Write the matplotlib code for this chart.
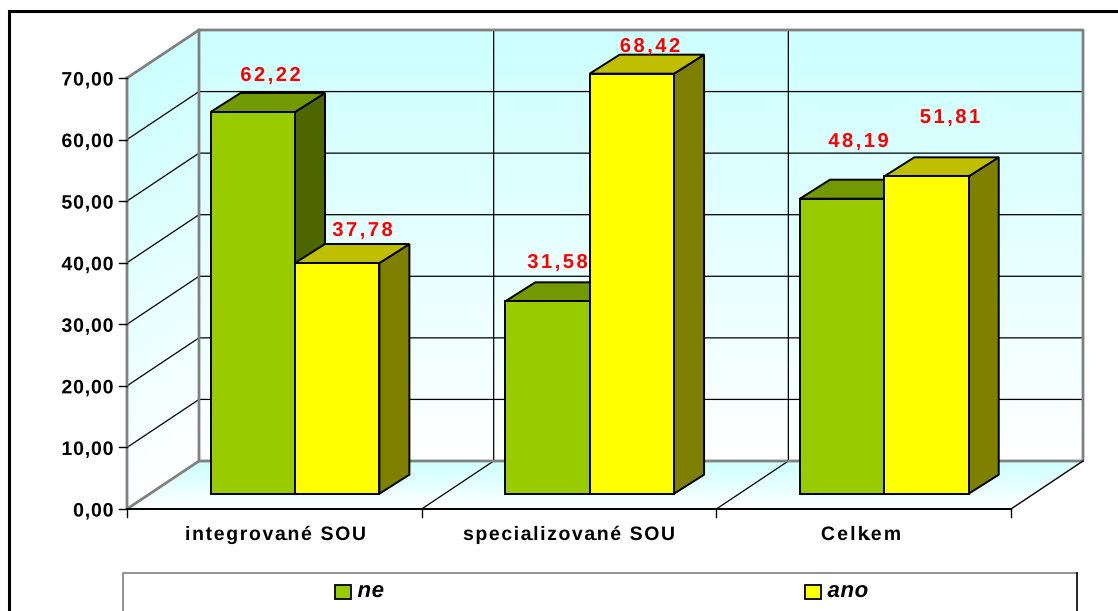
import matplotlib
matplotlib.use("Agg")
import matplotlib.pyplot as plt
from matplotlib.colors import LinearSegmentedColormap
from matplotlib.font_manager import FontProperties
from matplotlib.patches import Polygon, Rectangle
from matplotlib.path import Path
from matplotlib.patheffects import AbstractPathEffect
from matplotlib.textpath import text_to_path
import numpy as np

categories = ["integrované SOU", "specializované SOU", "Celkem"]
series_names = ["ne", "ano"]
ne_values = [62.22, 31.58, 48.19]
ano_values = [37.78, 68.42, 51.81]
value_labels_ne = ["62,22", "31,58", "48,19"]
value_labels_ano = ["37,78", "68,42", "51,81"]
y_ticks = [0, 10, 20, 30, 40, 50, 60, 70]
y_tick_labels = ["0,00", "10,00", "20,00", "30,00", "40,00", "50,00", "60,00", "70,00"]

W, H = 1118, 611
X0, X1, Y0, Y70 = 127.0, 1011.0, 509.0, 78.0
PXU = (X1 - X0) / 3
PYU = (Y0 - Y70) / 70
DX, DY = 72 / PXU, 48 / PYU          # depth of the whole box
BDX, BDY = 30 / PXU, 19 / PYU        # depth of a bar
BAR_W = 84.4 / PXU
GAP = 83.6 / PXU
BASE_Y = 15.3 / PYU                  # bar base sits behind the front axis edge
TOP_OFF = 12.5 / PYU                 # bar tops are measured from a slightly lower origin
TOP_SCALE = 6.18 / PYU

FAMILY = ["Liberation Sans", "DejaVu Sans"]
plt.rcParams["font.family"] = FAMILY
fig = plt.figure(figsize=(W / 100, H / 100), dpi=100, facecolor="white")
ax = fig.add_axes([0, 0, 1, 1])
ax.set_xlim(-X0 / PXU, (W - X0) / PXU)
ax.set_ylim((Y0 - H) / PYU, Y0 / PYU)
ax.axis("off")


def to_data(px, py):
    return (px - X0) / PXU, (Y0 - py) / PYU


def advances(s, weight, style):
    """Cumulative natural advance of each prefix, in the glyph units of a text path."""
    fp = FontProperties(family=FAMILY, weight=weight, style=style, size=100)
    return [text_to_path.get_text_width_height_descent(s[:i], fp, False)[0] for i in range(1, len(s) + 1)]


class LetterSpacing(AbstractPathEffect):
    """Opens up the letters of one text by a number of pixels."""
    def __init__(self, s, spacing, weight, style):
        super().__init__()
        self.cum = np.array(advances(s, weight, style))
        self.spacing = spacing

    def draw_path(self, renderer, gc, tpath, affine, rgbFace=None):
        v = tpath.vertices.copy()
        idx = np.clip(np.searchsorted(self.cum, v[:, 0]), 0, len(self.cum) - 1)
        v[:, 0] += idx * self.spacing / affine.get_matrix()[0, 0]
        renderer.draw_path(gc, Path(v, tpath.codes), affine, rgbFace)


def stext(px, py, s, size, spacing, ha="left", color="black", style="normal", z=10):
    natural = advances(s, "bold", style)[-1] * size / 100 * 100 / 72
    total = natural + spacing * (len(s) - 1)
    left = px - total * {"left": 0, "center": 0.5, "right": 1}[ha]
    x, y = to_data(left, py)
    t = ax.text(x, y, s, ha="left", va="baseline", fontsize=size, fontweight="bold",
                fontstyle=style, color=color, zorder=z)
    t.set_path_effects([LetterSpacing(s, spacing, "bold", style)])
    return t


cmap = LinearSegmentedColormap.from_list("wall", ["#FFFFFF", "#CCFFFF"])
def shade(xs, ys, c):
    ax.pcolormesh(np.array(xs), np.array(ys), np.array(c), shading="gouraud",
                  cmap=cmap, vmin=0, vmax=1, zorder=1)

ymax = y_ticks[-1]
shade([[DX, 3 + DX], [DX, 3 + DX]], [[DY, DY], [ymax + DY, ymax + DY]], [[0, 0], [1, 1]])
shade([[0, DX], [0, DX]], [[0, DY], [ymax, ymax + DY]], [[0, 0], [1, 1]])
shade([[0, 3], [DX, 3 + DX]], [[0, 0], [DY, DY]], [[0, 0], [1, 1]])

GRID = dict(color="black", lw=0.9, zorder=2, solid_capstyle="butt")
EDGE = dict(color="#808080", lw=2.0, zorder=2.5, solid_capstyle="projecting")
for v in y_ticks[1:-1]:
    ax.plot([0, DX, 3 + DX], [v, v + DY, v + DY], **GRID)
for g in [1, 2]:
    ax.plot([g, g + DX, g + DX], [0, DY, ymax + DY], **GRID)
ax.plot([0, DX, DX], [ymax, ymax + DY, DY], **EDGE)
ax.plot([DX, 3 + DX, 3 + DX, DX, 0, 0], [ymax + DY, ymax + DY, DY, DY, 0, ymax], **EDGE)
ax.plot([3 + DX, 3], [DY, 0], color="black", lw=1.0, zorder=2.6)
ax.plot([0, 3], [0, 0], color="black", lw=1.4, zorder=2.6)

# ticks
tick_x = 8 / PXU
tick_y = 8 / PYU
for v, lab in zip(y_ticks, y_tick_labels):
    ax.plot([-tick_x, 0], [v, v], color="black", lw=1, zorder=2.6)
    stext(113.5, Y0 - v * PYU + 7.5, lab, 14, 0.85, ha="right")
for g in range(4):
    ax.plot([g, g], [0, -tick_y], color="black", lw=1, zorder=2.6)
for px, c, sp in zip([275.5, 569, 861], categories, [1.66, 1.6, 2.2]):
    stext(px, 540, c, 14, sp, ha="center")


def bar(x, v, front, top, side, z):
    y0 = BASE_Y
    y1 = TOP_OFF + v * TOP_SCALE
    w = BAR_W
    st = dict(edgecolor="black", lw=1.4, joinstyle="miter", zorder=z)
    ax.add_patch(Polygon([(x + w, y0), (x + w + BDX, y0 + BDY), (x + w + BDX, y1 + BDY), (x + w, y1)], facecolor=side, **st))
    ax.add_patch(Polygon([(x, y1), (x + BDX, y1 + BDY), (x + w + BDX, y1 + BDY), (x + w, y1)], facecolor=top, **st))
    ax.add_patch(Rectangle((x, y0), w, y1 - y0, facecolor=front, **st))

for i in range(3):
    x = i + GAP
    bar(x, ne_values[i], "#99CC00", "#739900", "#4D6600", 3 + i)
    bar(x + BAR_W, ano_values[i], "#FFFF00", "#BFBF00", "#808000", 3.5 + i)

# data labels
ne_lab = [(270.5, 81), (557.5, 268), (858.5, 147)]
ano_lab = [(362.5, 236), (650, 52), (950, 123)]
for (p, t) in zip(ne_lab + ano_lab, value_labels_ne + value_labels_ano):
    stext(p[0], p[1], t, 14.5, 2.5, ha="center", color="#FF0000", z=10)

# outer frame: left and top only, running off the picture
fx0, fy = to_data(8.5, 11)
fx1, _ = to_data(1125, 11)
_, fyb = to_data(0, 640)
ax.plot([fx0, fx0, fx1], [fyb, fy, fy], color="black", lw=2.2, zorder=20, solid_joinstyle="miter")

# legend box
lx0, ly = to_data(123, 573)
lx1, _ = to_data(1077, 573)
ax.plot([lx0, lx0, lx1], [fyb, ly, ly], color="#808080", lw=1.2, zorder=20)
ax.plot([lx1, lx1], [ly, fyb], color="black", lw=1.2, zorder=20)
sw = 16 / PXU
sh = 13.5 / PYU
for (px, name, col) in [(334.5, series_names[0], "#99CC00"), (804.5, series_names[1], "#FFFF00")]:
    x, y = to_data(px, 598.5)
    ax.add_patch(Rectangle((x, y), sw, sh, facecolor=col, edgecolor="black", lw=1.3, zorder=21))
    stext(px + 23, 597, name, 16, 0.6, style="italic", z=21)

fig.savefig("out.png", dpi=100, facecolor="white")
